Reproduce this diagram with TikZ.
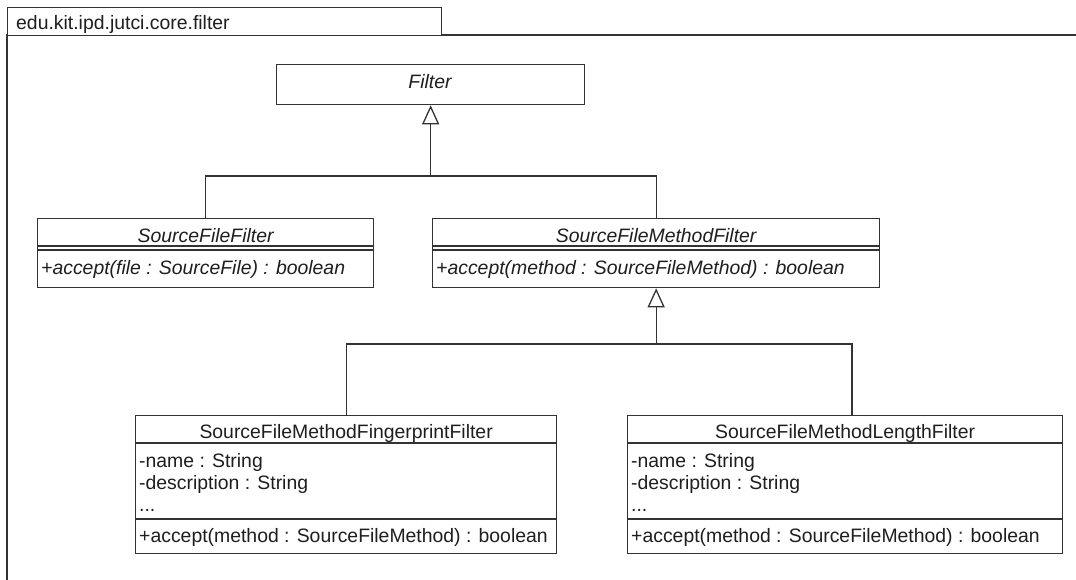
\documentclass[tikz,border=0pt]{standalone}
\usepackage{fontspec}
\setmainfont{Liberation Sans}
\usetikzlibrary{arrows.meta}
\definecolor{umlline}{HTML}{333333}
\definecolor{umltext}{HTML}{1E1E1E}
\begin{document}
\begin{tikzpicture}[x=1pt,y=-1pt,
  box/.style={draw=umlline, line width=1.3pt, fill=white, inner sep=0pt, anchor=north west},
  sepline/.style={draw=umlline, line width=1.3pt},
  txt/.style={text=umltext, inner sep=0pt, font=\fontsize{19.4}{22}\selectfont},
  itxt/.style={txt, font=\fontsize{19.4}{22}\selectfont\itshape},
  conn/.style={draw=umlline, line width=1.3pt},
  gen/.style={conn, -{Triangle[open, length=19pt, width=17pt, line width=1.3pt]}}]
\useasboundingbox (0,0) rectangle (1076,579);
\fill[white] (0,0) rectangle (1076,579);

% package frame with its name tab
\draw[conn] (7,590) -- (7,35) -- (1090,35);
\node[box, minimum width=434pt, minimum height=28pt] (pkgtab) at (7,7) {};
\node[txt, anchor=base west] (pkgname) at (16,29) {edu.kit.ipd.jutci.core.filter};

% Filter
\node[box, minimum width=308pt, minimum height=40pt] (filter) at (276,64) {};
\node[itxt, anchor=base] (filtername) at (430,88) {Filter};

% SourceFileFilter
\node[box, minimum width=336pt, minimum height=69pt] (sff) at (37,218) {};
\draw[sepline] (37,246) -- (373,246) (37,250) -- (373,250);
\node[itxt, anchor=base] (sffname) at (sff.north |- 0,242) {SourceFileFilter};
\node[itxt, anchor=base west] (sffop) at (41,274) {+accept(file : SourceFile) : boolean};

% SourceFileMethodFilter
\node[box, minimum width=447pt, minimum height=69pt] (sfmf) at (432,218) {};
\draw[sepline] (432,246) -- (879,246) (432,250) -- (879,250);
\node[itxt, anchor=base] (sfmfname) at (sfmf.north |- 0,242) {SourceFileMethodFilter};
\node[itxt, anchor=base west] (sfmfop) at (436,274) {+accept(method : SourceFileMethod) : boolean};

% SourceFileMethodFingerprintFilter
\node[box, minimum width=421pt, minimum height=138pt] (fpf) at (135,415) {};
\draw[sepline] (135,443) -- (556,443) (135,519) -- (556,519);
\node[txt, anchor=base] (fpfname) at (fpf.north |- 0,438) {SourceFileMethodFingerprintFilter};
\node[txt, anchor=base west] (fpfa1) at (139,467) {-name : String};
\node[txt, anchor=base west] (fpfa2) at (139,489) {-description : String};
\node[txt, anchor=base west] (fpfa3) at (139,511) {...};
\node[txt, anchor=base west] (fpfop) at (139,542) {+accept(method : SourceFileMethod) : boolean};

% SourceFileMethodLengthFilter
\node[box, minimum width=435pt, minimum height=138pt] (lenf) at (627,415) {};
\draw[sepline] (627,443) -- (1062,443) (627,519) -- (1062,519);
\node[txt, anchor=base] (lenfname) at (lenf.north |- 0,438) {SourceFileMethodLengthFilter};
\node[txt, anchor=base west] (lenfa1) at (631,467) {-name : String};
\node[txt, anchor=base west] (lenfa2) at (631,489) {-description : String};
\node[txt, anchor=base west] (lenfa3) at (631,511) {...};
\node[txt, anchor=base west] (lenfop) at (631,542) {+accept(method : SourceFileMethod) : boolean};

% generalizations
\coordinate (j1) at (filter.south |- 0,176);
\draw[conn] (sff.north) |- (j1) -| (sfmf.north);
\draw[gen] (j1) -- (filter.south);

\coordinate (j2) at (sfmf.south |- 0,344);
\coordinate (lenftop) at ([xshift=225pt]lenf.north west);
\draw[conn] (fpf.north) |- (j2) -| (lenftop);
\draw[gen] (j2) -- (sfmf.south);
\end{tikzpicture}
\end{document}
